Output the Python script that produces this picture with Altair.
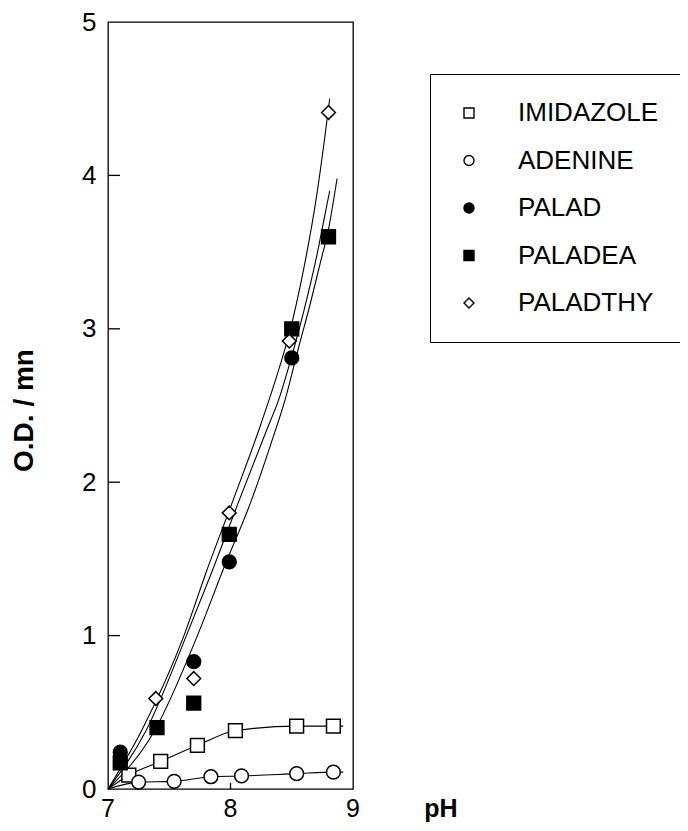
import altair as alt
import pandas as pd

# ---------------- data ----------------
series = ["IMIDAZOLE", "ADENINE", "PALAD", "PALADEA", "PALADTHY"]
shapes = ["square", "circle", "circle", "square", "diamond"]
fills = ["white", "white", "black", "black", "white"]
strokes = ["black", "black", "black", "black", "black"]

imid_ph = [7.17, 7.43, 7.73, 8.04, 8.54, 8.84]
imid_v = [0.09, 0.18, 0.285, 0.38, 0.41, 0.41]
aden_ph = [7.25, 7.54, 7.84, 8.09, 8.54, 8.84]
aden_v = [0.045, 0.05, 0.08, 0.085, 0.10, 0.11]
palad_ph = [7.10, 7.70, 7.99, 8.50]
palad_v = [0.24, 0.83, 1.48, 2.81]
paladea_ph = [7.10, 7.40, 7.70, 7.99, 8.50, 8.80]
paladea_v = [0.17, 0.40, 0.56, 1.66, 3.00, 3.60]
paladthy_ph = [7.39, 7.70, 7.99, 8.48, 8.80]
paladthy_v = [0.59, 0.72, 1.80, 2.92, 4.41]

# lines joining the imidazole / adenine points (from origin to a short tail)
imid_line_ph = [7.0, 7.17, 7.43, 7.73, 8.04, 8.54, 8.84, 8.92]
imid_line_v = [0.0, 0.09, 0.18, 0.285, 0.38, 0.41, 0.41, 0.41]
aden_line_ph = [7.0, 7.25, 7.54, 7.84, 8.09, 8.54, 8.84, 8.92]
aden_line_v = [0.0, 0.045, 0.05, 0.08, 0.085, 0.10, 0.11, 0.11]

# fitted curves
fit_thy_ph = [7.00, 7.28, 7.62, 7.80, 8.02, 8.24, 8.40, 8.48, 8.60, 8.70, 8.77, 8.81]
fit_thy_v = [0.00, 0.39, 1.00, 1.41, 1.88, 2.36, 2.75, 2.97, 3.40, 3.85, 4.25, 4.50]
fit_ea_ph = [7.00, 7.31, 7.64, 7.85, 8.07, 8.30, 8.39, 8.50, 8.60, 8.70, 8.77, 8.81]
fit_ea_v = [0.00, 0.38, 1.00, 1.42, 1.88, 2.35, 2.53, 2.82, 3.12, 3.46, 3.74, 3.90]
fit_ad_ph = [7.00, 7.38, 7.73, 7.95, 8.17, 8.33, 8.45, 8.55, 8.65, 8.73, 8.80, 8.87]
fit_ad_v = [0.00, 0.38, 1.00, 1.45, 1.88, 2.25, 2.55, 2.86, 3.16, 3.42, 3.65, 3.98]

x_ticks = [7, 8, 9]
x_tick_labels = ["7", "8", "9"]
x_title = ["pH"]
y_ticks = [0, 1, 2, 3, 4, 5]
inner_y_ticks = [1, 2, 3, 4]
inner_x_ticks = [8]

# ---------------- tables ----------------
pts = []
for name, phs, vs in [
    ("IMIDAZOLE", imid_ph, imid_v),
    ("ADENINE", aden_ph, aden_v),
    ("PALAD", palad_ph, palad_v),
    ("PALADEA", paladea_ph, paladea_v),
    ("PALADTHY", paladthy_ph, paladthy_v),
]:
    for p, v in zip(phs, vs):
        pts.append({"series": name, "pH": p, "value": v})
pts = pd.DataFrame(pts)

lines = []
for name, phs, vs in [
    ("imid", imid_line_ph, imid_line_v),
    ("aden", aden_line_ph, aden_line_v),
    ("fit_thy", fit_thy_ph, fit_thy_v),
    ("fit_ea", fit_ea_ph, fit_ea_v),
    ("fit_ad", fit_ad_ph, fit_ad_v),
]:
    for i, (p, v) in enumerate(zip(phs, vs)):
        lines.append({"curve": name, "pH": p, "value": v, "i": i})
lines = pd.DataFrame(lines)

ytk = pd.DataFrame({"value": inner_y_ticks})
xtk = pd.DataFrame({"pH": [float(t) for t in inner_x_ticks]})
xlab = pd.DataFrame({"pH": [float(t) for t in x_ticks], "lab": x_tick_labels})
xtitle = pd.DataFrame({"t": x_title})

W, H = 245, 767
xs = alt.Scale(domain=[7, 9], nice=False, zero=False)
ys = alt.Scale(domain=[0, 5], nice=False, zero=False)

NUM_FONT = "Liberation Sans"
TITLE_FONT = "Liberation Sans Narrow, Arial Narrow, Liberation Sans, sans-serif"

y_axis = alt.Axis(
    values=y_ticks, format="d", title="O.D. / mn", ticks=False,
    domain=False, grid=False, labelFont=NUM_FONT, labelFontSize=26,
    labelColor="black", labelPadding=12, labelFlush=False,
    labelOverlap=False, titleFont=TITLE_FONT, titleFontSize=28,
    titleFontWeight="bold", titleColor="black", titleX=-84, titleY=388,
    titleAlign="center", titleBaseline="middle", titleAngle=-90,
)

X = alt.X("pH:Q", scale=xs, axis=None)
Y = alt.Y("value:Q", scale=ys, axis=y_axis)

legend = alt.Legend(
    title=None, orient="none", legendX=322, legendY=52,
    strokeColor="black", fillColor="white", padding=26,
    labelFont=NUM_FONT, labelFontSize=26, labelColor="black",
    labelOffset=36, rowPadding=21.5, symbolSize=100,
    symbolStrokeWidth=1.4,
)

line_layer = alt.Chart(lines).mark_line(
    color="black", strokeWidth=1.1, interpolate="monotone"
).encode(
    x=X,
    y=Y,
    detail="curve:N",
    order="i:Q",
)

point_layer = alt.Chart(pts).mark_point(
    filled=True, size=190, strokeWidth=1.5, opacity=1
).encode(
    x=X,
    y=Y,
    shape=alt.Shape("series:N", scale=alt.Scale(domain=series, range=shapes), legend=legend),
    fill=alt.Fill("series:N", scale=alt.Scale(domain=series, range=fills), legend=legend),
    stroke=alt.Stroke("series:N", scale=alt.Scale(domain=series, range=strokes), legend=legend),
)

ytick_layer = alt.Chart(ytk).mark_rule(color="black", strokeWidth=1.3).encode(
    y=Y,
    x=alt.value(0),
    x2=alt.value(12),
)
xtick_layer = alt.Chart(xtk).mark_rule(color="black", strokeWidth=1.3).encode(
    x=X,
    y=alt.value(H - 6),
    y2=alt.value(H),
)
xlabel_layer = alt.Chart(xlab).mark_text(
    font=NUM_FONT, fontSize=25, color="black", baseline="top", align="center"
).encode(
    x=X,
    y=alt.value(H + 8),
    text="lab:N",
)
xtitle_layer = alt.Chart(xtitle).mark_text(
    font=TITLE_FONT, fontSize=25, fontWeight="bold", color="black",
    baseline="middle", align="center"
).encode(
    x=alt.value(333),
    y=alt.value(H + 20),
    text="t:N",
)

chart = (
    alt.layer(line_layer, ytick_layer, xtick_layer, point_layer, xlabel_layer, xtitle_layer)
    .properties(
        width=W,
        height=H,
        autosize=alt.AutoSizeParams(type="none"),
        padding={"left": 100, "top": 14, "right": 327, "bottom": 34},
        background="white",
    )
    .configure_view(stroke="black", strokeWidth=1.3)
)

chart.save("out.html", embed_options={"renderer": "svg", "actions": False})
